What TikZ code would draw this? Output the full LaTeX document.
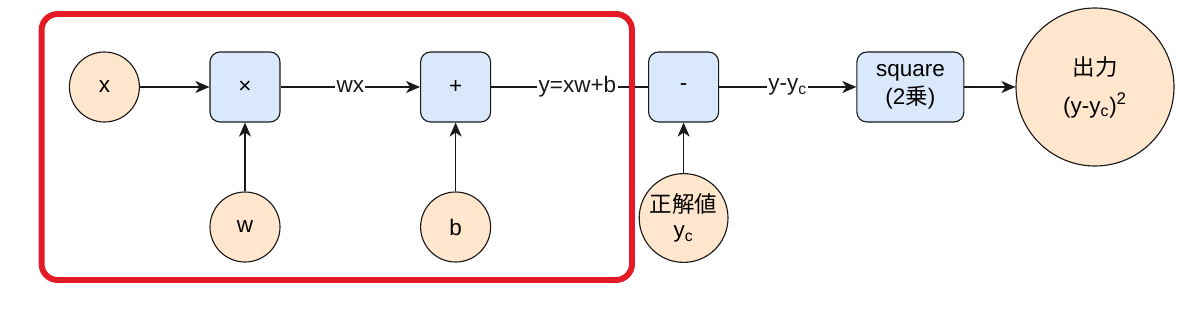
\documentclass[tikz,border=0pt]{standalone}
\usepackage{fontspec}
\setmainfont{Liberation Sans}
\newfontfamily\jpfont{Noto Sans CJK JP}
\usetikzlibrary{arrows.meta}
\definecolor{gradorange}{RGB}{255,230,204}
\definecolor{gradblue}{RGB}{218,232,252}
\definecolor{gradred}{RGB}{228,26,36}
\definecolor{gradline}{RGB}{25,25,25}

\begin{document}
\begin{tikzpicture}[font=\fontsize{16}{20}\selectfont,
    var/.style={circle,draw=gradline,fill=gradorange,line width=0.8pt,
                minimum size=1.75cm,inner sep=0pt,align=center},
    op/.style={rectangle,rounded corners=0.25cm,draw=gradline,fill=gradblue,
               line width=0.8pt,minimum width=1.75cm,minimum height=1.75cm,
               inner sep=0pt,align=center},
    flow/.style={-{Stealth[length=3.5mm,width=3mm,inset=1mm]},line width=1pt,gradline},
    wire/.style={line width=1pt,gradline},
    lbl/.style={fill=white,inner sep=1pt}]
    \useasboundingbox (0,0) rectangle (30,7.875);
    % entradas
    \node[var] (x) at (2.61,5.7) {x};
    \node[var] (w) at (6.125,2.2) {w};
    \node[var] (b) at (11.39,2.2) {b};
    \node[var,minimum size=2.22cm] (yc) at (17.09,2.425)
        {{\jpfont 正解値}\\[-2pt]y\textsubscript{c}};
    % operacoes
    \node[op] (mul) at (6.125,5.7) {×};
    \node[op] (add) at (11.39,5.7) {+};
    \node[op] (sub) at (17.09,5.7) {-};
    \node[op,minimum width=2.675cm] (sq) at (22.76,5.7)
        {square\\(2{\jpfont 乗})};
    % saida
    \node[var,minimum size=3.95cm] (out) at (27.375,5.7)
        {{\jpfont 出力}\\[7pt](y-y\textsubscript{c})\textsuperscript{\large 2}};
    % ligacoes
    \draw[flow] (x) -- (mul);
    \draw[flow] (w) -- (mul);
    \draw[flow] (b) -- (add);
    \draw[flow] (yc) -- (sub);
    \draw[flow] (mul) -- (add) node[midway,lbl] {wx};
    \draw[wire] (add) -- (sub) node[pos=0.55,lbl] {y=xw+b};
    \draw[flow] (sub) -- (sq) node[midway,lbl] {y-y\textsubscript{c}};
    \draw[flow] (sq) -- (out);
    % moldura
    \draw[gradred,line width=4.2pt,rounded corners=0.4cm]
        (1.04,0.875) rectangle (15.8,7.525);
\end{tikzpicture}
\end{document}
